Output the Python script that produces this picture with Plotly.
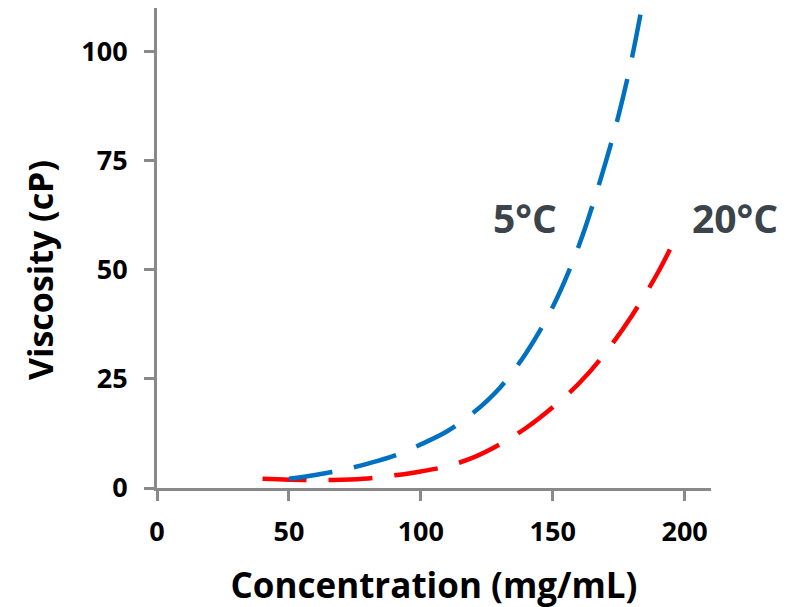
import plotly.graph_objects as go

# Data
conc_5c = [50, 60, 70, 80, 90, 100, 110, 120, 130, 140, 150, 160, 170, 175, 180, 183.7]
visc_5c = [2.1, 3.0, 4.1, 5.6, 7.4, 10.0, 13.0, 17.3, 23.0, 31.0, 41.5, 55.7, 74.5, 85.5, 98.5, 110]

conc_20c = [40, 50, 60, 70, 80, 90, 100, 110, 120, 130, 140, 150, 160, 170, 180, 190, 195.5]
visc_20c = [2.1, 1.9, 1.8, 1.9, 2.2, 2.9, 3.8, 5.0, 7.0, 10.0, 13.8, 18.5, 24.0, 31.0, 39.5, 49.5, 56.0]

x_ticks = [0, 50, 100, 150, 200]
y_ticks = [0, 25, 50, 75, 100]

FONT = "Open Sans"
AXIS_COLOR = "#898989"

fig = go.Figure()
fig.add_trace(go.Scatter(x=conc_20c, y=visc_20c, mode="lines",
                         line=dict(color="#ff0000", width=4.5, dash="44px,22px", shape="spline"),
                         name="20°C", showlegend=False, hoverinfo="skip"))
fig.add_trace(go.Scatter(x=conc_5c, y=visc_5c, mode="lines",
                         line=dict(color="#0070c0", width=4.5, dash="44px,22px", shape="spline"),
                         name="5°C", showlegend=False, hoverinfo="skip"))

# curve labels (paper coords so the right one can sit beyond the axis range)
fig.add_annotation(x=(525 - 157) / 554, y=(488 - 217) / 480, xref="paper", yref="paper",
                   xanchor="center", yanchor="middle",
                   text="<b>5°C</b>", showarrow=False,
                   font=dict(family=FONT, size=39, color="#3b434b"))
fig.add_annotation(x=(735 - 157) / 554, y=(488 - 217) / 480, xref="paper", yref="paper",
                   xanchor="center", yanchor="middle",
                   text="<b>20°C</b>", showarrow=False,
                   font=dict(family=FONT, size=39, color="#3b434b"))

# y-axis title placed as a rotated annotation (sits slightly below the plot centre)
fig.add_annotation(x=(40 - 157) / 554, y=(488 - 270) / 480, xref="paper", yref="paper",
                   xanchor="center", yanchor="middle", textangle=-90,
                   text="<b>Viscosity (cP)</b>", showarrow=False,
                   font=dict(family=FONT, size=34, color="black"))

fig.update_layout(
    width=799, height=607,
    margin=dict(l=149, r=96, t=0, b=127),
    paper_bgcolor="white", plot_bgcolor="white",
    font=dict(family=FONT, color="black"),
)
fig.update_xaxes(
    range=[0, 210], tickvals=x_ticks, ticktext=[str(v) for v in x_ticks],
    showgrid=False, zeroline=False, showline=True, linecolor=AXIS_COLOR, linewidth=3,
    ticks="outside", ticklen=10, tickwidth=3, tickcolor=AXIS_COLOR,
    tickfont=dict(family=FONT, size=27, color="black", weight="bold"),
    ticklabelstandoff=8, automargin=False,
    title=dict(text="<b>Concentration (mg/mL)</b>", font=dict(family=FONT, size=35, color="black"), standoff=26),
)
fig.update_yaxes(
    range=[0, 110], tickvals=y_ticks, ticktext=[str(v) for v in y_ticks],
    showgrid=False, zeroline=False, showline=True, linecolor=AXIS_COLOR, linewidth=3,
    ticks="outside", ticklen=10, tickwidth=3, tickcolor=AXIS_COLOR,
    tickfont=dict(family=FONT, size=27, color="black", weight="bold"),
    ticklabelstandoff=11, automargin=False,
)

fig.write_html("out.html")
